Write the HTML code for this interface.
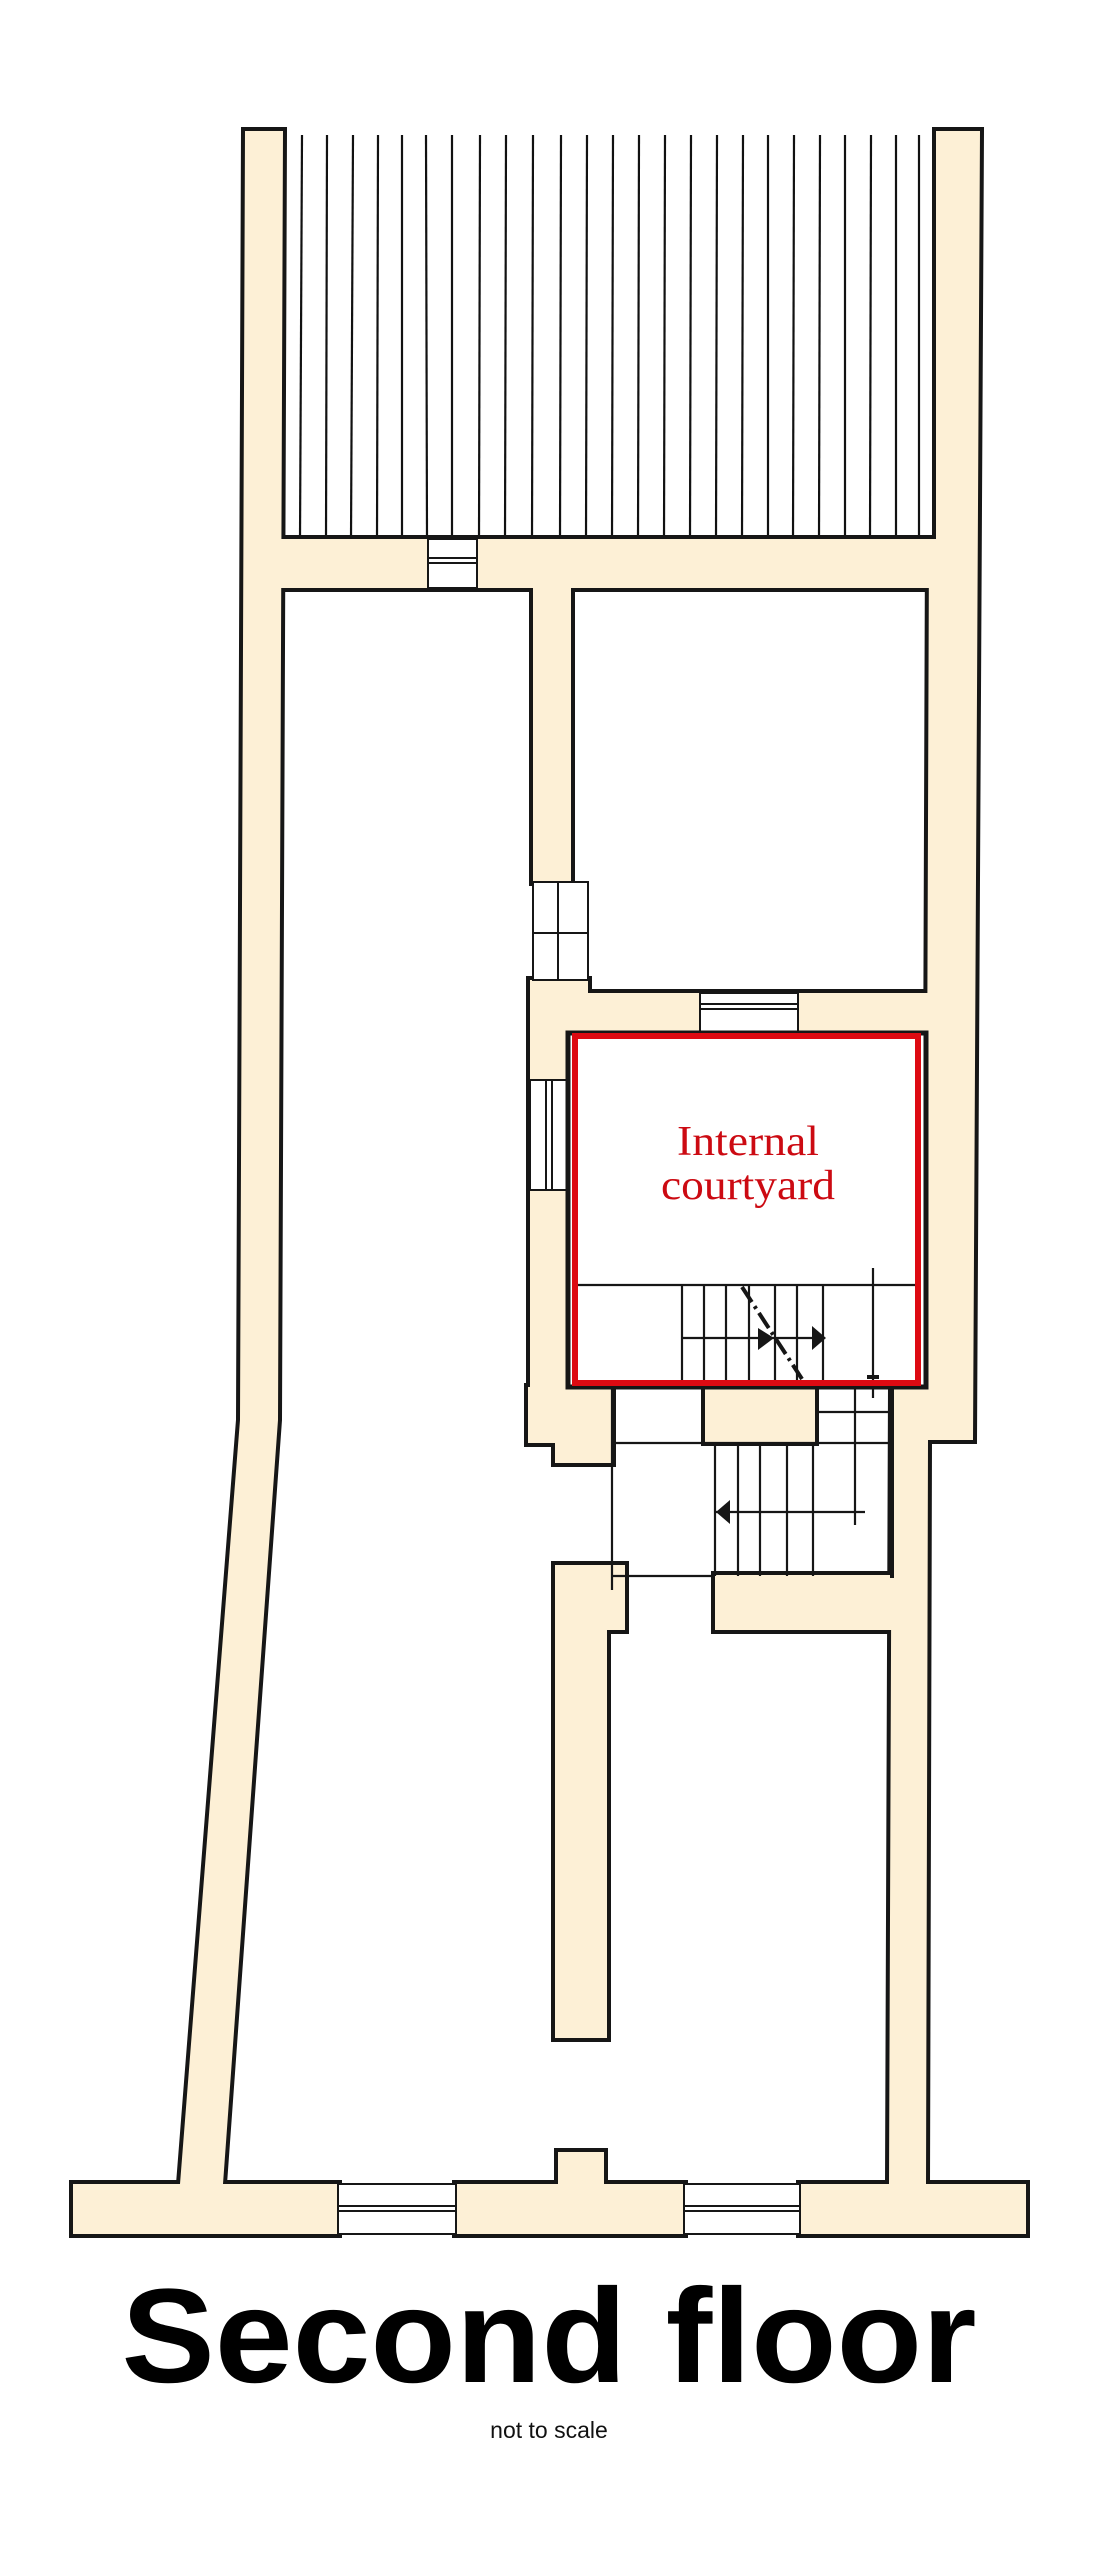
<!DOCTYPE html>
<html><head><meta charset="utf-8"><style>
html,body{margin:0;padding:0;background:#fff}
svg{display:block}
</style></head><body>
<svg width="1098" height="2560" viewBox="0 0 1098 2560" xmlns="http://www.w3.org/2000/svg">
<defs>
<g id="walls">
  <polygon points="245,131 283,131 278,1420 223,2184 180,2184 240,1420"/>
  <rect x="245" y="539" width="691" height="49"/>
  <polygon points="936,131 980,131 973,1440 928,1440 926,2184 889,2184 892,1387 926,1387 929,539 936,539"/>
  <rect x="533" y="588" width="38" height="294"/>
  <rect x="530" y="980" width="58" height="13"/>
  <rect x="530" y="993" width="443" height="40"/>
  <rect x="530" y="980" width="38" height="407"/>
  <rect x="528" y="1387" width="84" height="56"/>
  <rect x="555" y="1387" width="57" height="76"/>
  <rect x="705" y="1387" width="110" height="55"/>
  <rect x="715" y="1575" width="211" height="55"/>
  <rect x="555" y="1565" width="70" height="65"/>
  <rect x="555" y="1565" width="52" height="473"/>
  <rect x="73" y="2184" width="265" height="50"/>
  <rect x="456" y="2184" width="228" height="50"/>
  <rect x="800" y="2184" width="226" height="50"/>
  <rect x="558" y="2152" width="46" height="40"/>
</g>
</defs>
<g stroke="#111" stroke-width="2.2">
<line x1="302" y1="135" x2="300" y2="539"/><line x1="327" y1="135" x2="326" y2="539"/><line x1="353" y1="135" x2="351" y2="539"/><line x1="378" y1="135" x2="377" y2="539"/><line x1="402" y1="135" x2="402" y2="539"/><line x1="426" y1="135" x2="427" y2="539"/><line x1="452" y1="135" x2="452" y2="539"/><line x1="480" y1="135" x2="479" y2="539"/><line x1="506" y1="135" x2="505" y2="539"/><line x1="533" y1="135" x2="532" y2="539"/><line x1="561" y1="135" x2="560" y2="539"/><line x1="587" y1="135" x2="586" y2="539"/><line x1="613" y1="135" x2="612" y2="539"/><line x1="639" y1="135" x2="638" y2="539"/><line x1="665" y1="135" x2="664" y2="539"/><line x1="691" y1="135" x2="690" y2="539"/><line x1="717" y1="135" x2="716" y2="539"/><line x1="743" y1="135" x2="742" y2="539"/><line x1="768" y1="135" x2="768" y2="539"/><line x1="794" y1="135" x2="793" y2="539"/><line x1="820" y1="135" x2="819" y2="539"/><line x1="845" y1="135" x2="845" y2="539"/><line x1="871" y1="135" x2="870" y2="539"/><line x1="896" y1="135" x2="896" y2="539"/><line x1="919" y1="135" x2="919" y2="539"/>
</g>
<use href="#walls" fill="#161616" stroke="#161616" stroke-width="8" stroke-linejoin="miter"/>
<use href="#walls" fill="#fdf0d6"/>
<g fill="#fff" stroke="#161616" stroke-width="2">
  <rect x="428" y="539" width="49" height="49"/>
  <rect x="700" y="993" width="98" height="40"/>
  <rect x="533" y="882" width="55" height="98"/>
  <rect x="530" y="1080" width="38" height="110"/>
  <rect x="338" y="2184" width="118" height="50"/>
  <rect x="684" y="2184" width="116" height="50"/>
</g>
<g stroke="#161616" stroke-width="2" fill="none">
  <line x1="428" y1="558" x2="477" y2="558"/><line x1="428" y1="563" x2="477" y2="563"/>
  <line x1="700" y1="1004" x2="798" y2="1004"/><line x1="700" y1="1009" x2="798" y2="1009"/>
  <line x1="558" y1="882" x2="558" y2="980"/><line x1="533" y1="933" x2="588" y2="933"/>
  <line x1="546" y1="1080" x2="546" y2="1190"/><line x1="552" y1="1080" x2="552" y2="1190"/>
  <line x1="338" y1="2206" x2="456" y2="2206"/><line x1="338" y1="2211" x2="456" y2="2211"/>
  <line x1="684" y1="2206" x2="800" y2="2206"/><line x1="684" y1="2211" x2="800" y2="2211"/>
</g>
<rect x="568" y="1033" width="358" height="354" fill="#fff" stroke="#161616" stroke-width="5"/>
<g stroke="#161616" stroke-width="2.2" fill="none">
  <line x1="575" y1="1285" x2="918" y2="1285"/>
  <line x1="682" y1="1285" x2="682" y2="1383"/><line x1="704" y1="1285" x2="704" y2="1383"/>
  <line x1="726" y1="1285" x2="726" y2="1383"/><line x1="749" y1="1285" x2="749" y2="1383"/>
  <line x1="775" y1="1285" x2="775" y2="1383"/><line x1="797" y1="1285" x2="797" y2="1383"/>
  <line x1="823" y1="1285" x2="823" y2="1383"/>
  <line x1="682" y1="1338" x2="823" y2="1338"/>
  <line x1="873" y1="1268" x2="873" y2="1398"/>
  <line x1="867" y1="1377" x2="879" y2="1377" stroke-width="4"/>
  <line x1="742" y1="1287" x2="802" y2="1379" stroke-width="4" stroke-dasharray="18,5,3,5"/>
</g>
<polygon points="758,1328 774,1338 758,1350" fill="#161616"/>
<polygon points="812,1326 826,1338 812,1350" fill="#161616"/>
<g stroke="#161616" stroke-width="2.2" fill="none">
  <line x1="612" y1="1387" x2="612" y2="1590"/>
  <line x1="612" y1="1443" x2="892" y2="1443"/>
  <line x1="612" y1="1576" x2="715" y2="1576"/>
  <line x1="715" y1="1443" x2="715" y2="1576"/>
  <line x1="738" y1="1443" x2="738" y2="1576"/><line x1="760" y1="1443" x2="760" y2="1576"/>
  <line x1="787" y1="1443" x2="787" y2="1576"/><line x1="813" y1="1443" x2="813" y2="1576"/>
  <line x1="715" y1="1512" x2="865" y2="1512"/>
  <line x1="855" y1="1387" x2="855" y2="1525"/>
  <line x1="815" y1="1412" x2="892" y2="1412"/>
</g>
<polygon points="716,1512 730,1500 730,1524" fill="#161616"/>
<line x1="892" y1="1387" x2="892" y2="1578" stroke="#161616" stroke-width="4"/>
<rect x="575" y="1036" width="343" height="347" fill="none" stroke="#dd0a12" stroke-width="6"/>
<text x="748" y="1155" font-family="Liberation Serif, serif" font-size="42" fill="#cc0a12" text-anchor="middle" textLength="142" lengthAdjust="spacingAndGlyphs">Internal</text>
<text x="748" y="1199" font-family="Liberation Serif, serif" font-size="42" fill="#cc0a12" text-anchor="middle" textLength="174" lengthAdjust="spacingAndGlyphs">courtyard</text>
<text x="549" y="2382" font-family="Liberation Sans, sans-serif" font-weight="bold" font-size="134" fill="#000" text-anchor="middle" textLength="855" lengthAdjust="spacingAndGlyphs">Second floor</text>
<text x="549" y="2438" font-family="Liberation Sans, sans-serif" font-size="23" fill="#111" text-anchor="middle">not to scale</text>
</svg>
</body></html>
